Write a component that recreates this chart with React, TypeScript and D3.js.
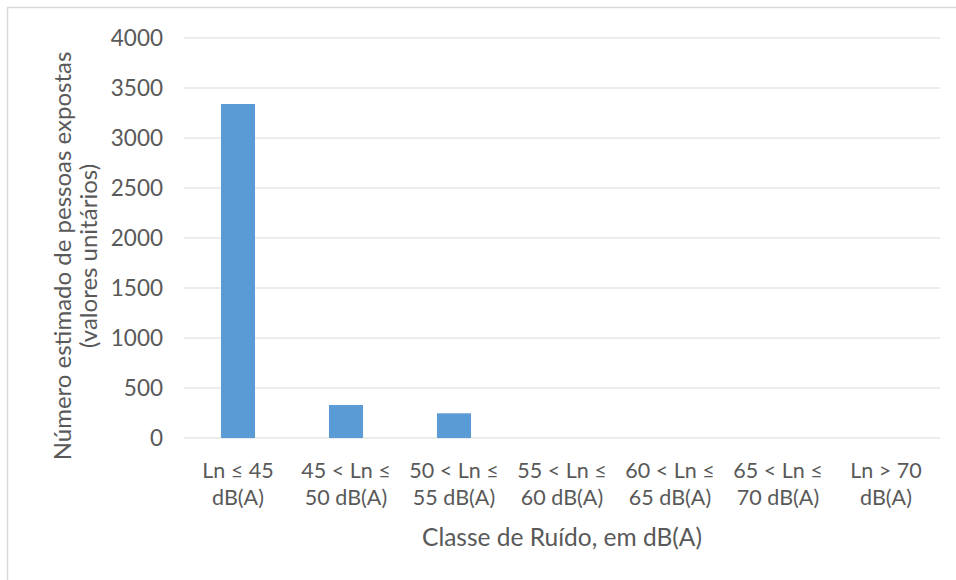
import React from "react";
import * as d3 from "d3";

// categories split into two text lines each
const categoryLine1 = ["Ln ≤ 45", "45 < Ln ≤", "50 < Ln ≤", "55 < Ln ≤", "60 < Ln ≤", "65 < Ln ≤", "Ln > 70"];
const categoryLine2 = ["dB(A)", "50 dB(A)", "55 dB(A)", "60 dB(A)", "65 dB(A)", "70 dB(A)", "dB(A)"];
const exposedPeople = [3340, 330, 247, 0, 0, 0, 0];
const yTicks = [0, 500, 1000, 1500, 2000, 2500, 3000, 3500, 4000];

const width = 956;
const height = 580;
const font = "Lato, 'Open Sans', sans-serif";
const textColor = "#595959";

const App = () => {
    const categories = categoryLine1.map((c, i) => i);

    const xScale = d3.scaleBand<number>()
        .domain(categories)
        .range([184, 940])
        .paddingInner(0.685)
        .paddingOuter(0.3425);

    const yScale = d3.scaleLinear()
        .domain([0, 4000])
        .range([438, 38]);

    return (
        <svg width={width} height={height} style={{ position: "absolute", left: 0, top: 0 }}>
            <rect x={0} y={0} width={width} height={height} fill="#ffffff" />
            <rect x={7.5} y={7.5} width={960} height={600} fill="none" stroke="#d9d9d9" strokeWidth={1.5} />

            {/* gridlines + tick labels */}
            {yTicks.map(t => (
                <g key={t}>
                    <line x1={184} x2={940} y1={yScale(t)} y2={yScale(t)} stroke="#d9d9d9" strokeWidth={1} />
                    <text x={163} y={yScale(t) + 8} textAnchor="end" fontFamily={font} fontSize={22.5} fill={textColor}>
                        {t}
                    </text>
                </g>
            ))}

            {/* bars */}
            {exposedPeople.map((v, i) => (
                <rect
                    key={i}
                    x={xScale(i)}
                    y={yScale(v)}
                    width={xScale.bandwidth()}
                    height={yScale(0) - yScale(v)}
                    fill="#5b9bd5"
                />
            ))}

            {/* category labels */}
            {categories.map(i => {
                const cx = (xScale(i) || 0) + xScale.bandwidth() / 2;
                return (
                    <text key={i} textAnchor="middle" fontFamily={font} fontSize={21.5} fill={textColor}>
                        <tspan x={cx} y={478}>{categoryLine1[i]}</tspan>
                        <tspan x={cx} y={505}>{categoryLine2[i]}</tspan>
                    </text>
                );
            })}

            {/* axis titles */}
            <text x={562} y={546} textAnchor="middle" fontFamily={font} fontSize={24.5} fill={textColor}>
                Classe de Ruído, em dB(A)
            </text>
            <text transform="translate(0,256) rotate(-90)" textAnchor="middle" fontFamily={font} fontSize={24} fill={textColor}>
                <tspan x={0} y={71}>Número estimado de pessoas expostas</tspan>
                <tspan x={0} y={97}>(valores unitários)</tspan>
            </text>
        </svg>
    );
};

export default App;
